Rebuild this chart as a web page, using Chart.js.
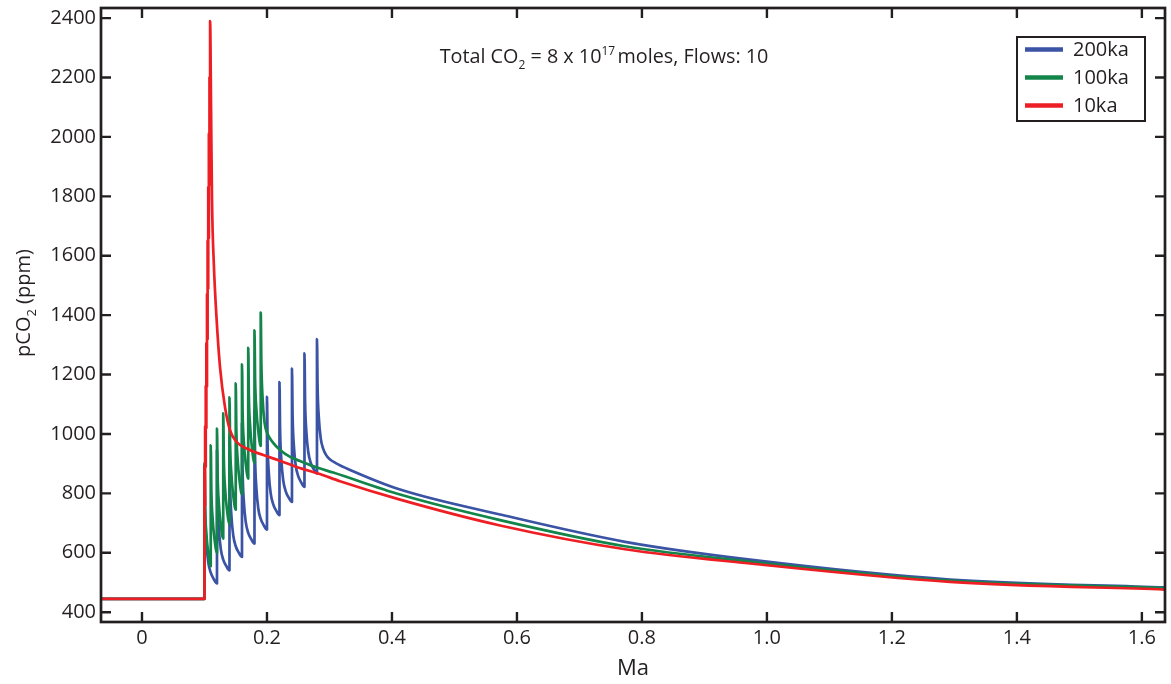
<!DOCTYPE html>
<html>
<head>
<meta charset="utf-8">
<script src="https://cdn.jsdelivr.net/npm/chart.js@4.4.1/dist/chart.umd.min.js"></script>
<style>
  html, body { margin: 0; padding: 0; background: #fff; }
</style>
</head>
<body>
<canvas id="co2Chart" width="1171" height="684"></canvas>
<script>
// axis ticks
const xTicks = [0, 0.2, 0.4, 0.6, 0.8, 1.0, 1.2, 1.4, 1.6];
const yTicks = [400, 600, 800, 1000, 1200, 1400, 1600, 1800, 2000, 2200, 2400];

const seriesLabels = ['200ka', '100ka', '10ka'];
const seriesColors = ['#3a53a4', '#13854a', '#ed1f24'];
// red drawn on top, blue at the bottom
const seriesOrder = [2, 1, 0];

// [Ma, pCO2 ppm]
const flows200ka = [
  [-0.066, 445], [0.100, 445],
  [0.100, 895], [0.101, 736], [0.103, 636], [0.106, 569], [0.110, 533], [0.115, 511], [0.120, 497],
  [0.120, 945], [0.121, 783], [0.123, 682], [0.126, 614], [0.130, 577], [0.135, 555], [0.140, 541],
  [0.140, 990], [0.141, 828], [0.143, 727], [0.146, 659], [0.150, 622], [0.155, 600], [0.160, 586],
  [0.160, 1035], [0.161, 873], [0.163, 772], [0.166, 704], [0.170, 667], [0.175, 645], [0.180, 631],
  [0.180, 1080], [0.181, 919], [0.183, 819], [0.186, 750], [0.190, 714], [0.195, 692], [0.200, 678],
  [0.200, 1125], [0.201, 966], [0.203, 866], [0.206, 799], [0.210, 763], [0.215, 741], [0.220, 727],
  [0.220, 1175], [0.221, 1013], [0.223, 912], [0.226, 844], [0.230, 807], [0.235, 785], [0.240, 771],
  [0.240, 1220], [0.241, 1061], [0.243, 961], [0.246, 894], [0.250, 858], [0.255, 836], [0.260, 822],
  [0.260, 1271], [0.261, 1109], [0.263, 1008], [0.266, 940], [0.270, 903], [0.275, 881], [0.280, 867],
  [0.280, 1319], [0.281, 1156], [0.283, 1054], [0.286, 985], [0.290, 950], [0.295, 928], [0.300, 916],
  [0.310, 902], [0.333, 879], [0.413, 813], [0.573, 729], [0.773, 637], [0.973, 577], [1.293, 510], [1.640, 483]
];

const flows100ka = [
  [-0.066, 445], [0.100, 445],
  [0.100, 900], [0.101, 755], [0.103, 665], [0.106, 600], [0.110, 555],
  [0.110, 962], [0.111, 810], [0.113, 716], [0.116, 647], [0.120, 600],
  [0.120, 1018], [0.121, 863], [0.123, 766], [0.126, 696], [0.130, 648],
  [0.130, 1069], [0.131, 913], [0.133, 816], [0.136, 745], [0.140, 697],
  [0.140, 1123], [0.141, 964], [0.143, 866], [0.146, 794], [0.150, 745],
  [0.150, 1170], [0.151, 1013], [0.153, 916], [0.156, 845], [0.160, 797],
  [0.160, 1234], [0.161, 1073], [0.163, 973], [0.166, 900], [0.170, 850],
  [0.170, 1290], [0.171, 1127], [0.173, 1027], [0.176, 953], [0.180, 903],
  [0.180, 1349], [0.181, 1185], [0.183, 1084], [0.186, 1011], [0.190, 960],
  [0.190, 1409], [0.191, 1240], [0.193, 1120], [0.196, 1040], [0.200, 1005],
  [0.210, 970], [0.220, 948], [0.237, 923], [0.253, 909], [0.280, 887], [0.306, 870],
  [0.413, 796], [0.573, 710], [0.773, 622], [0.973, 570], [1.293, 506], [1.640, 481]
];

const flows10ka = [
  [-0.066, 445], [0.100, 445],
  [0.100, 890], [0.101, 760], [0.101, 1025], [0.102, 890], [0.102, 1160],
  [0.103, 1020], [0.103, 1305], [0.104, 1160], [0.104, 1470], [0.105, 1320],
  [0.105, 1650], [0.106, 1490], [0.106, 1830], [0.107, 1660], [0.107, 2010],
  [0.108, 1840], [0.108, 2200], [0.109, 2020], [0.109, 2390],
  [0.1105, 2100], [0.112, 1790], [0.115, 1570], [0.119, 1400], [0.1248, 1226],
  [0.1328, 1091], [0.1408, 1013], [0.1515, 973], [0.1675, 951], [0.1941, 929],
  [0.2208, 910], [0.2475, 889], [0.2848, 865], [0.3168, 841], [0.413, 779],
  [0.573, 692], [0.773, 612], [0.973, 564], [1.293, 502], [1.640, 476]
];

const ink = '#231f20';
const fontFamily = '"Open Sans", "Liberation Sans", sans-serif';

const toPoints = (arr) => arr.map(([x, y]) => ({ x, y }));

// draws text pieces in a row, some smaller and shifted (sub / superscripts)
const drawPieces = (ctx, pieces, x, y) => {
  let cx = x;
  pieces.forEach(([text, size, dy]) => {
    ctx.font = `${size}px ${fontFamily}`;
    ctx.fillText(text, cx, y + dy);
    cx += ctx.measureText(text).width;
  });
  return cx - x;
};

const piecesWidth = (ctx, pieces) => {
  let w = 0;
  pieces.forEach(([text, size]) => {
    ctx.font = `${size}px ${fontFamily}`;
    w += ctx.measureText(text).width;
  });
  return w;
};

const frameAndExtras = {
  id: 'frameAndExtras',
  afterDraw(chart) {
    const { ctx, chartArea } = chart;
    const { left, right, top, bottom } = chartArea;
    const xs = chart.scales.x;
    const ys = chart.scales.y;
    ctx.save();
    ctx.strokeStyle = ink;
    ctx.fillStyle = ink;

    // box
    ctx.lineWidth = 2.7;
    ctx.strokeRect(left, top, right - left, bottom - top);

    // inward ticks on all four sides
    ctx.lineWidth = 2.4;
    ctx.beginPath();
    xTicks.forEach((v) => {
      const px = xs.getPixelForValue(v);
      ctx.moveTo(px, bottom); ctx.lineTo(px, bottom - 10);
      ctx.moveTo(px, top); ctx.lineTo(px, top + 10);
    });
    yTicks.forEach((v) => {
      const py = ys.getPixelForValue(v);
      ctx.moveTo(left, py); ctx.lineTo(left + 10, py);
      ctx.moveTo(right, py); ctx.lineTo(right - 10, py);
    });
    ctx.stroke();

    // legend
    const lx = 1017; const ly = 37; const lw = 128; const lh = 84;
    ctx.fillStyle = '#fff';
    ctx.fillRect(lx, ly, lw, lh);
    ctx.lineWidth = 2;
    ctx.strokeStyle = ink;
    ctx.strokeRect(lx, ly, lw, lh);
    ctx.textBaseline = 'middle';
    ctx.textAlign = 'left';
    seriesLabels.forEach((label, i) => {
      const ry = 49.5 + i * 28;
      ctx.strokeStyle = seriesColors[i];
      ctx.lineWidth = 4.5;
      ctx.beginPath();
      ctx.moveTo(1025, ry);
      ctx.lineTo(1063, ry);
      ctx.stroke();
      ctx.fillStyle = ink;
      ctx.font = `20px ${fontFamily}`;
      ctx.fillText(label, 1073, ry + 1);
    });

    // annotation
    ctx.textBaseline = 'alphabetic';
    ctx.fillStyle = ink;
    const note = [
      ['Total CO', 19.8, 0], ['2', 12, 6], [' = 8 x 10', 19.8, 0],
      ['17', 12, -8], [' ', 9, 0], ['moles, Flows: 10', 19.8, 0]
    ];
    const nw = piecesWidth(ctx, note);
    drawPieces(ctx, note, 604 - nw / 2, 63);

    // y axis title
    const ttl = [['pCO', 20, 0], ['2', 13, 6], [' (ppm)', 20, 0]];
    ctx.translate(30, 303);
    ctx.rotate(-Math.PI / 2);
    const tw = piecesWidth(ctx, ttl);
    drawPieces(ctx, ttl, -tw / 2, 0);
    ctx.restore();
  }
};

const chart = new Chart(document.getElementById('co2Chart'), {
  type: 'line',
  data: {
    datasets: [flows200ka, flows100ka, flows10ka].map((arr, i) => ({
      label: seriesLabels[i],
      data: toPoints(arr),
      order: seriesOrder[i],
      borderColor: seriesColors[i],
      borderWidth: 2.7,
      borderJoinStyle: 'round',
      pointRadius: 0,
      fill: false,
      cubicInterpolationMode: 'monotone'
    }))
  },
  options: {
    responsive: false,
    animation: false,
    events: [],
    layout: { padding: { top: 8, right: 6, left: 0, bottom: 0 } },
    plugins: {
      legend: { display: false },
      tooltip: { enabled: false }
    },
    scales: {
      x: {
        type: 'linear',
        min: -0.0656,
        max: 1.637,
        grid: { display: false, drawTicks: false },
        border: { display: false },
        afterBuildTicks: (scale) => { scale.ticks = xTicks.map((value) => ({ value })); },
        afterFit: (scale) => {
          scale.height = 62;
          scale.paddingLeft = 0;
          scale.paddingRight = 0;
        },
        ticks: {
          color: ink,
          padding: 4,
          maxRotation: 0,
          autoSkip: false,
          font: { family: fontFamily, size: 20 },
          callback: (v) => (v === 0 ? '0' : Number(v).toFixed(1))
        },
        title: {
          display: true,
          text: 'Ma',
          color: ink,
          font: { family: fontFamily, size: 22 },
          padding: { top: 0, bottom: 2 }
        }
      },
      y: {
        type: 'linear',
        min: 367,
        max: 2434,
        grid: { display: false, drawTicks: false },
        border: { display: false },
        afterBuildTicks: (scale) => { scale.ticks = yTicks.map((value) => ({ value })); },
        afterFit: (scale) => {
          scale.width = 101;
          scale.paddingTop = 0;
          scale.paddingBottom = 0;
        },
        ticks: {
          color: ink,
          padding: 5,
          autoSkip: false,
          font: { family: fontFamily, size: 20 },
          callback: (v) => String(v)
        }
      }
    }
  },
  plugins: [frameAndExtras]
});
</script>
</body>
</html>
